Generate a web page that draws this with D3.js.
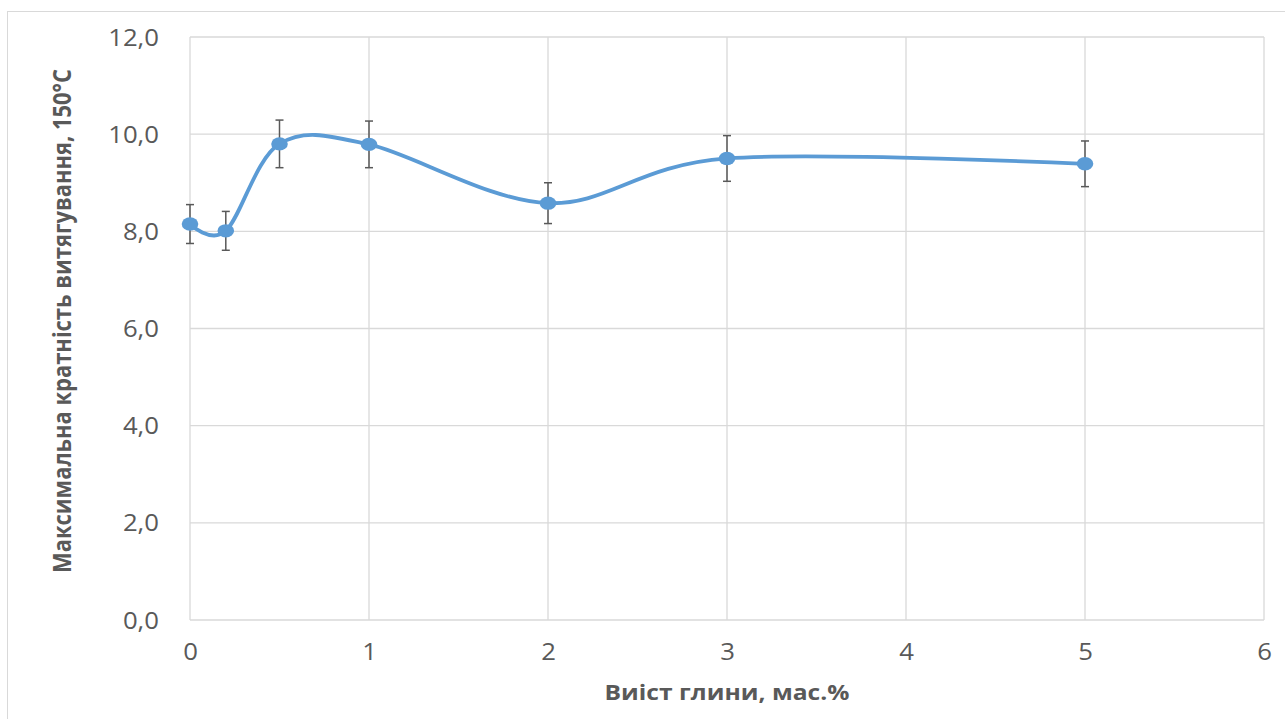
<!DOCTYPE html>
<html>
<head>
<meta charset="utf-8">
<script src="https://cdn.jsdelivr.net/npm/d3@7"></script>
<style>
  html, body { margin: 0; padding: 0; background: #fff; }
  svg { display: block; }
  text { font-family: "Open Sans", "Noto Sans", sans-serif; fill: #595959; }
</style>
</head>
<body>
<svg id="chart" width="1285" height="719"></svg>
<script>
// Clay content, wt.% (x) and maximum draw ratio at 150 °C (y), with error half-widths
const clayContent = [0, 0.2, 0.5, 1, 2, 3, 5];
const drawRatio   = [8.15, 8.01, 9.80, 9.79, 8.58, 9.50, 9.39];
const errorHalf   = [0.40, 0.40, 0.49, 0.48, 0.42, 0.47, 0.47];

const xTicks = [0, 1, 2, 3, 4, 5, 6];
const yTicks = [0, 2, 4, 6, 8, 10, 12];

const xTitle = "Виіст глини, мас.%";
const yTitle = "Максимальна кратність витягування, 150°C";

const svg = d3.select("#chart");
const W = 1285, H = 719;
const plot = { left: 190, right: 1264, top: 37, bottom: 620 };
const stretch = 1.12;

// outer chart frame
svg.append("rect")
  .attr("x", 7.5).attr("y", 11.5)
  .attr("width", W + 20).attr("height", H + 20)
  .attr("fill", "none").attr("stroke", "#d9d9d9").attr("stroke-width", 1);

const x = d3.scaleLinear().domain([0, 6]).range([plot.left, plot.right]);
const y = d3.scaleLinear().domain([0, 12]).range([plot.bottom, plot.top]);

// gridlines
const grid = svg.append("g").attr("stroke", "#d9d9d9").attr("stroke-width", 1.3);
grid.selectAll("line.h").data(yTicks).join("line")
  .attr("x1", plot.left).attr("x2", plot.right)
  .attr("y1", d => y(d)).attr("y2", d => y(d));
grid.selectAll("line.v").data(xTicks).join("line")
  .attr("y1", plot.top).attr("y2", plot.bottom)
  .attr("x1", d => x(d)).attr("x2", d => x(d));

// axes (labels only; domain and ticks hidden)
const fmtY = d => d3.format(".1f")(d).replace(".", ",");
const yAxis = svg.append("g")
  .attr("transform", `translate(${plot.left},0)`)
  .call(d3.axisLeft(y).tickValues(yTicks).tickFormat(fmtY).tickSize(0).tickPadding(31));
yAxis.select(".domain").remove();
yAxis.selectAll("text")
  .attr("font-size", 23).attr("font-family", "Open Sans, sans-serif").attr("fill", "#595959")
  .attr("dy", "0.35em")
  .attr("transform", function () {
    const tx = +d3.select(this).attr("x");
    return `translate(${tx},0) scale(${stretch},1) translate(${-tx},0)`;
  });

const xAxis = svg.append("g")
  .attr("transform", `translate(0,${plot.bottom})`)
  .call(d3.axisBottom(x).tickValues(xTicks).tickFormat(d3.format("d")).tickSize(0).tickPadding(24));
xAxis.select(".domain").remove();
xAxis.selectAll(".tick text")
  .attr("font-size", 23).attr("font-family", "Open Sans, sans-serif").attr("fill", "#595959")
  .attr("transform", `scale(${stretch},1)`);

// axis titles
svg.append("text")
  .attr("transform", `translate(727,692) scale(${stretch},1)`)
  .attr("text-anchor", "middle").attr("dy", "0.35em")
  .attr("font-size", 22).attr("font-weight", "bold")
  .text(xTitle);

svg.append("text")
  .attr("transform", `translate(62,321) rotate(-90)`)
  .attr("text-anchor", "middle").attr("dy", "0.35em")
  .attr("font-size", 25).attr("font-weight", "bold")
  .attr("textLength", 504).attr("lengthAdjust", "spacingAndGlyphs")
  .text(yTitle);

const pts = clayContent.map((c, i) => ({ c, v: drawRatio[i], e: errorHalf[i] }));

// smoothed series line
svg.append("path")
  .datum(pts)
  .attr("fill", "none").attr("stroke", "#5b9bd5").attr("stroke-width", 3.8)
  .attr("stroke-linejoin", "round").attr("stroke-linecap", "round")
  .attr("d", d3.line().x(d => x(d.c)).y(d => y(d.v)).curve(d3.curveCardinal.tension(0)));

// error bars
const eb = svg.append("g").attr("stroke", "#595959").attr("stroke-width", 1.5);
eb.selectAll("line.bar").data(pts).join("line")
  .attr("x1", d => x(d.c)).attr("x2", d => x(d.c))
  .attr("y1", d => y(d.v + d.e)).attr("y2", d => y(d.v - d.e));
eb.selectAll("line.top").data(pts).join("line")
  .attr("x1", d => x(d.c) - 4).attr("x2", d => x(d.c) + 4)
  .attr("y1", d => y(d.v + d.e)).attr("y2", d => y(d.v + d.e));
eb.selectAll("line.bot").data(pts).join("line")
  .attr("x1", d => x(d.c) - 4).attr("x2", d => x(d.c) + 4)
  .attr("y1", d => y(d.v - d.e)).attr("y2", d => y(d.v - d.e));

// markers
svg.append("g").selectAll("ellipse").data(pts).join("ellipse")
  .attr("cx", d => x(d.c)).attr("cy", d => y(d.v))
  .attr("rx", 8.3).attr("ry", 6.7)
  .attr("fill", "#5b9bd5");
</script>
</body>
</html>
